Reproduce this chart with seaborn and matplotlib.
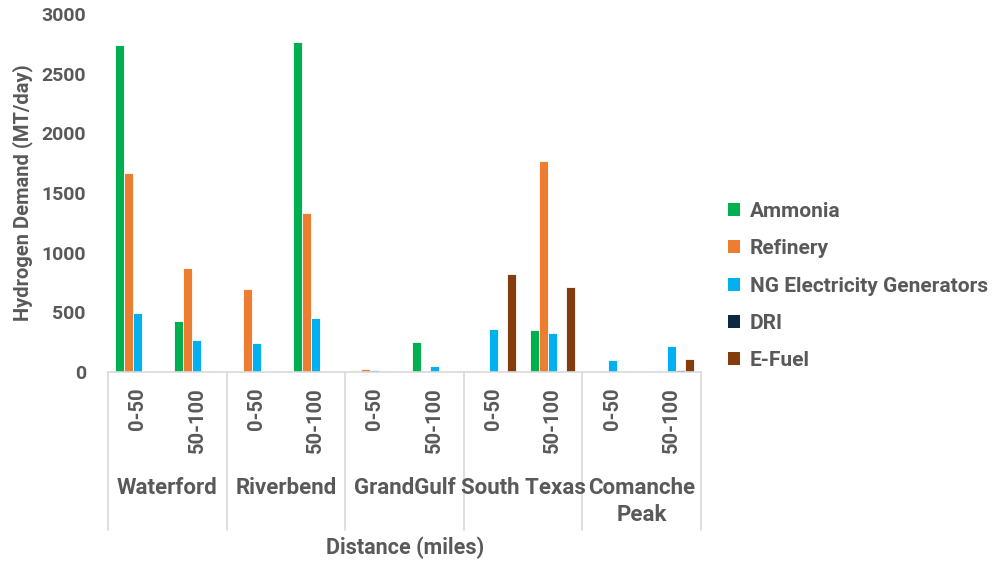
import matplotlib
matplotlib.use("Agg")
import matplotlib.pyplot as plt
from matplotlib.patches import Patch
from matplotlib.transforms import blended_transform_factory
import seaborn as sns
import pandas as pd

# Nuclear plant sites and distance bands
sites = ["Waterford", "Riverbend", "GrandGulf", "South Texas", "Comanche\nPeak"]
bands = ["0-50", "50-100"]

# Hydrogen demand (MT/day) per site/band, ordered site by site
ammonia = [2740, 430, 0, 2770, 0, 250, 0, 350, 0, 0]
refinery = [1670, 875, 700, 1335, 25, 0, 0, 1770, 0, 0]
ng_generators = [495, 270, 245, 450, 20, 55, 365, 330, 100, 220]
dri = [0, 0, 0, 0, 0, 0, 0, 0, 0, 15]
e_fuel = [0, 0, 0, 0, 0, 0, 820, 715, 0, 110]

sectors = ["Ammonia", "Refinery", "NG Electricity Generators", "DRI", "E-Fuel"]
colors = ["#00B050", "#ED7D31", "#00B0F0", "#0E2841", "#843C0C"]
series = [ammonia, refinery, ng_generators, dri, e_fuel]

slots = [f"{s}|{b}" for s in sites for b in bands]
rows = []
for name, vals in zip(sectors, series):
    for slot, v in zip(slots, vals):
        if v > 0:
            rows.append({"slot": slot, "sector": name, "demand": v})
df = pd.DataFrame(rows)

sns.set_theme(style="white")
plt.rcParams["font.family"] = ["Roboto", "DejaVu Sans"]
plt.rcParams["font.weight"] = "bold"
text_color = "#595959"
line_color = "#D9D9D9"

fig = plt.figure(figsize=(10, 5.63), dpi=100)
ax = fig.add_axes([0.108, 0.339, 0.593, 0.636])

sns.barplot(data=df, x="slot", y="demand", hue="sector", order=slots,
            hue_order=sectors, palette=colors, saturation=1, width=0.76,
            dodge=True, edgecolor="white", linewidth=0.6, errorbar=None,
            legend=False, ax=ax)

ax.set_xlim(-0.5, len(slots) - 0.5)
ax.set_ylim(0, 3000)
ax.set_yticks(range(0, 3001, 500))
ax.tick_params(axis="y", length=0, pad=16, labelsize=14, labelcolor=text_color)
ax.set_xticks(range(len(slots)))
ax.set_xticklabels(bands * len(sites), rotation=90, va="top", ha="center")
ax.tick_params(axis="x", length=0, pad=11, labelsize=14.5, labelcolor=text_color)
for lab in ax.get_xticklabels() + ax.get_yticklabels():
    lab.set_fontweight("bold")

for side in ["top", "right", "left"]:
    ax.spines[side].set_visible(False)
ax.spines["bottom"].set_color(line_color)
ax.spines["bottom"].set_linewidth(1.2)

ax.set_xlabel("")
ax.set_ylabel("Hydrogen Demand (MT/day)", fontsize=14.5, fontweight="bold",
              color=text_color, labelpad=6)

# Group separators and site labels below the distance bands
trans = blended_transform_factory(ax.transData, ax.transAxes)
for k in range(len(sites) + 1):
    x = 2 * k - 0.5
    ax.plot([x, x], [0, -0.441], transform=trans, color=line_color,
            lw=1.2, clip_on=False)
for k, site in enumerate(sites):
    ax.text(2 * k + 0.5, -0.293, site, transform=trans, ha="center", va="top",
            fontsize=16, fontweight="bold", color=text_color, linespacing=1.32)

fig.text(0.405, 0.027, "Distance (miles)", ha="center", va="center",
         fontsize=15.5, fontweight="bold", color=text_color)

handles = [Patch(facecolor=c, edgecolor="none") for c in colors]
fig.legend(handles, sectors, loc="center left", bbox_to_anchor=(0.709, 0.492),
           frameon=False, labelcolor=text_color,
           handlelength=0.6, handleheight=0.6, handletextpad=0.45,
           labelspacing=0.88, prop={"weight": "bold", "size": 15})

fig.savefig("out.png", dpi=100)
